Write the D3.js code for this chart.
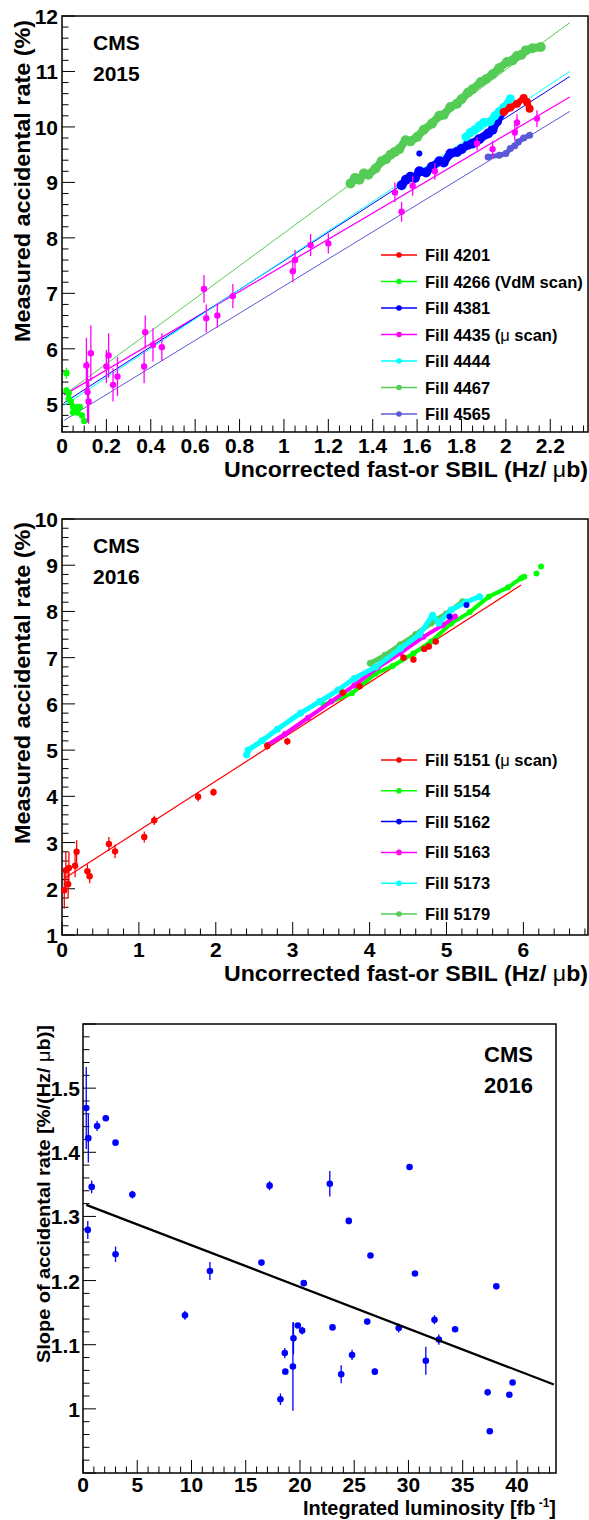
<!DOCTYPE html>
<html lang="en">
<head>
<meta charset="utf-8">
<style>
  body { margin: 0; background: #fff; }
  svg text { font-family: "Liberation Sans", Arial, sans-serif; font-weight: bold; fill: #000; }
</style>
</head>
<body>
<svg id="chart" width="589" height="1520"></svg>
<script src="https://cdnjs.cloudflare.com/ajax/libs/d3/7.8.5/d3.min.js"></script>
<script>
// ---- panel 1 (2015) data ----
const fills2015 = ["Fill 4201", "Fill 4266 (VdM scan)", "Fill 4381", "Fill 4435 (\u03bc scan)", "Fill 4444", "Fill 4467", "Fill 4565"];
const colors2015 = ["#ff0000", "#00ff00", "#0000ff", "#ff00ff", "#00ffff", "#55cc55", "#5a5ad8"];
// dense bands: [x, y]
const band4467 = [[1.30,8.98],[1.32,9.08],[1.34,9.05],[1.36,9.16],[1.38,9.14],[1.413,9.25],[1.44,9.38],[1.46,9.42],[1.48,9.5],[1.50,9.55],[1.52,9.6],[1.548,9.76],[1.57,9.74],[1.60,9.82],[1.63,9.95],[1.667,10.06],[1.70,10.2],[1.72,10.22],[1.75,10.36],[1.78,10.42],[1.80,10.5],[1.83,10.62],[1.85,10.68],[1.887,10.81],[1.91,10.86],[1.94,10.95],[1.97,11.06],[2.005,11.17],[2.03,11.2],[2.05,11.28],[2.07,11.3],[2.09,11.38],[2.12,11.42],[2.157,11.44]];
const band4381 = [[1.53,8.95],[1.55,9.05],[1.57,9.1],[1.59,9.08],[1.61,9.2],[1.64,9.18],[1.667,9.28],[1.70,9.38],[1.72,9.36],[1.75,9.52],[1.78,9.55],[1.80,9.6],[1.83,9.68],[1.85,9.7],[1.88,9.78],[1.92,9.88],[1.94,9.95],[1.96,10.1],[1.99,10.3]];
const band4444 = [[1.82,9.82],[1.84,9.9],[1.86,9.95],[1.88,10.02],[1.90,10.08],[1.93,10.1],[1.95,10.2],[1.97,10.28],[1.99,10.35],[2.02,10.51]];
const band4201 = [[1.99,10.27],[2.02,10.35],[2.05,10.42],[2.08,10.52],[2.095,10.45],[2.107,10.33]];
const band4565 = [[1.92,9.46],[1.97,9.49],[2.0,9.52],[2.02,9.61],[2.04,9.66],[2.056,9.73],[2.08,9.8],[2.107,9.85]];
const pts4266 = [[0.02,5.56,0.1],[0.02,5.25,0.06],[0.03,5.2,0.06],[0.03,5.1,0.05],[0.04,5.05,0.05],[0.05,4.95,0.05],[0.05,4.85,0.05],[0.06,4.9,0.05],[0.07,4.85,0.05],[0.07,4.95,0.05],[0.08,4.95,0.05],[0.09,4.8,0.05],[0.1,4.7,0.05]];
const pts4381 = [[1.61,9.52,0.05]];
const pts4435 = [[0.11,5.7,0.5],[0.115,5.22,0.55],[0.12,5.05,0.4],[0.13,5.92,0.5],[0.2,5.68,0.3],[0.21,5.88,0.4],[0.23,5.35,0.3],[0.25,5.5,0.35],[0.37,5.68,0.3],[0.375,6.3,0.3],[0.41,6.07,0.3],[0.45,6.03,0.25],[0.64,7.08,0.25],[0.65,6.55,0.25],[0.7,6.6,0.22],[0.77,6.95,0.22],[1.04,7.4,0.2],[1.05,7.6,0.18],[1.12,7.87,0.2],[1.2,7.9,0.18],[1.5,8.82,0.18],[1.53,8.47,0.18],[1.58,8.94,0.18],[1.68,9.2,0.15],[1.87,9.7,0.12],[1.94,9.6,0.15],[2.04,9.9,0.15],[2.05,10.08,0.15],[2.14,10.15,0.15]];
// fit lines: [x0, y0, x1, y1]
const fit4467 = [0.01, 5.17, 2.288, 11.88];
const fit4381 = [0.01, 5.03, 2.288, 10.91];
const fit4444 = [0.01, 4.98, 2.288, 11.0];
const fit4435 = [0.01, 5.17, 2.288, 10.54];
const fit4565 = [0.01, 4.71, 2.288, 10.28];

// ---- panel 2 (2016) data ----
const fills2016 = ["Fill 5151 (\u03bc scan)", "Fill 5154", "Fill 5162", "Fill 5163", "Fill 5173", "Fill 5179"];
const colors2016 = ["#ff0000", "#00ff00", "#0000ff", "#ff00ff", "#00ffff", "#55cc55"];
const pts5151 = [[0.03,1.97,0.4],[0.05,2.4,0.4],[0.08,2.1,0.3],[0.09,2.45,0.35],[0.17,2.5,0.25],[0.19,2.8,0.25],[0.33,2.38,0.15],[0.36,2.27,0.15],[0.61,2.97,0.15],[0.69,2.81,0.15],[1.07,3.12,0.12],[1.2,3.48,0.1],[1.77,3.99,0.1],[1.97,4.09,0.08],[2.67,5.09,0.08],[2.93,5.19,0.08],[3.65,6.24,0.07],[3.87,6.38,0.07],[4.44,7.0,0.07],[4.57,6.96,0.07],[4.71,7.19,0.06],[4.77,7.24,0.06],[4.86,7.35,0.06]];
const band5154 = [[3.4,5.98],[3.77,6.23],[4.08,6.66],[4.3,6.82],[4.57,7.09],[4.8,7.35],[5.06,7.74],[5.3,7.98],[5.55,8.32],[5.8,8.52],[5.97,8.72],[6.01,8.75]];
const pts5154 = [[6.17,8.82],[6.23,8.97]];
const band5179 = [[4.01,6.88],[4.2,7.05],[4.4,7.28],[4.6,7.5],[4.8,7.75],[5.0,7.95],[5.21,8.21]];
const band5163 = [[2.67,5.11],[2.9,5.35],[3.2,5.7],[3.5,6.05],[3.8,6.4],[4.1,6.78],[4.4,7.1],[4.7,7.45],[4.95,7.7],[5.11,7.89]];
const band5173 = [[2.40,4.9],[2.42,5.0],[2.6,5.2],[2.8,5.45],[3.1,5.8],[3.35,6.05],[3.59,6.3],[3.8,6.55],[4.08,6.8],[4.4,7.2],[4.65,7.5],[4.82,7.92],[4.9,7.75],[5.06,8.03],[5.25,8.2],[5.43,8.32]];
const pts5162 = [[5.04,7.89],[5.26,8.14]];
const fit5151 = [0.034, 2.23, 5.97, 8.57];

// ---- panel 3 (slope vs luminosity) ----
const lumi = [0.3,0.49,0.44,0.8,1.3,2.1,3.0,3.0,4.55,9.4,11.7,16.45,17.2,18.2,18.6,18.65,19.4,19.35,19.8,20.2,20.35,22.75,23.0,23.8,24.5,24.8,26.2,26.5,26.9,29.1,30.1,30.6,31.6,32.4,32.8,34.3,37.3,37.5,38.1,39.3,39.6];
const slope = [1.469,1.422,1.279,1.346,1.441,1.453,1.415,1.241,1.334,1.146,1.215,1.228,1.348,1.015,1.087,1.058,1.110,1.066,1.130,1.122,1.196,1.351,1.127,1.054,1.293,1.084,1.136,1.239,1.058,1.126,1.377,1.211,1.075,1.139,1.108,1.124,1.026,0.965,1.191,1.022,1.041];
const slopeErr = [0.064,0.038,0.014,0.01,0.008,0.004,0.002,0.012,0.006,0.007,0.014,0.003,0.007,0.009,0.008,0.002,0.025,0.069,0.002,0.006,0.002,0.02,0.002,0.014,0.005,0.008,0.003,0.002,0.005,0.007,0.004,0.002,0.022,0.007,0.008,0.004,0.005,0.003,0.002,0.002,0.002];
const fitSlope = [0.3, 1.318, 43.4, 1.038];

const svg = d3.select("#chart");

function panel(o) {
  const g = svg.append("g");
  const x = d3.scaleLinear().domain(o.xDom).range([o.left, o.right]);
  const y = d3.scaleLinear().domain(o.yDom).range([o.bottom, o.top]);
  // minor + major ticks drawn inward
  g.selectAll(".xt").data(d3.range(Math.round(o.xDom[0] / o.xMinor), Math.floor(o.xDom[1] / o.xMinor + 1e-6) + 1))
    .join("line").attr("stroke", "#000")
    .attr("x1", i => x(i * o.xMinor)).attr("x2", i => x(i * o.xMinor))
    .attr("y1", o.bottom).attr("y2", i => o.bottom - (i % o.xEvery === 0 ? 13 : 6.5));
  g.selectAll(".yt").data(d3.range(Math.ceil(o.yDom[0] / o.yMinor - 1e-6), Math.floor(o.yDom[1] / o.yMinor + 1e-6) + 1))
    .join("line").attr("stroke", "#000")
    .attr("y1", i => y(i * o.yMinor)).attr("y2", i => y(i * o.yMinor))
    .attr("x1", o.left).attr("x2", i => o.left + (Math.round(i * o.yMinor / o.yMajor * 1000) % 1000 === 0 ? 13 : 6.5));
  g.append("rect").attr("x", o.left).attr("y", o.top).attr("width", o.right - o.left).attr("height", o.bottom - o.top)
    .attr("fill", "none").attr("stroke", "#000").attr("stroke-width", 1.5);
  g.selectAll(".xl").data(o.xLabels).join("text")
    .attr("x", d => x(d)).attr("y", o.xLabelY).attr("text-anchor", "middle").attr("font-size", o.tickFont).text(d => d);
  g.selectAll(".yl").data(o.yLabels).join("text")
    .attr("x", o.yLabelX).attr("y", d => y(d) + 8).attr("text-anchor", "end").attr("font-size", o.tickFont).text(d => d);
  return { g, x, y };
}

function band(p, pts, color, w) {
  const line = d3.line().x(d => p.x(d[0])).y(d => p.y(d[1]));
  p.g.append("path").attr("d", line(pts)).attr("fill", "none").attr("stroke", color)
    .attr("stroke-width", w).attr("stroke-linecap", "round").attr("stroke-linejoin", "round");
  p.g.selectAll(null).data(pts).join("circle").attr("fill", color).attr("r", w / 2 + 1)
    .attr("cx", d => p.x(d[0])).attr("cy", d => p.y(d[1]));
}
function points(p, pts, color, r) {
  p.g.selectAll(null).data(pts).join("line").attr("stroke", color).attr("stroke-width", 1.3)
    .attr("x1", d => p.x(d[0])).attr("x2", d => p.x(d[0]))
    .attr("y1", d => p.y(d[1] - (d[2] || 0))).attr("y2", d => p.y(d[1] + (d[2] || 0)));
  p.g.selectAll(null).data(pts).join("circle").attr("fill", color).attr("r", r)
    .attr("cx", d => p.x(d[0])).attr("cy", d => p.y(d[1]));
}
function fit(p, f, color, w) {
  p.g.append("line").attr("stroke", color).attr("stroke-width", w)
    .attr("x1", p.x(f[0])).attr("y1", p.y(f[1])).attr("x2", p.x(f[2])).attr("y2", p.y(f[3]));
}
function legend(g, names, cols, x0, y0, dy) {
  names.forEach((n, i) => {
    const yy = y0 + i * dy;
    g.append("line").attr("x1", x0).attr("x2", x0 + 36).attr("y1", yy).attr("y2", yy).attr("stroke", cols[i]).attr("stroke-width", 1.5);
    g.append("circle").attr("cx", x0 + 18).attr("cy", yy).attr("r", 2.8).attr("fill", cols[i]);
    const t = g.append("text").attr("x", x0 + 44).attr("y", yy + 6).attr("font-size", 16.5);
    const parts = n.split("\u03bc");
    t.append("tspan").text(parts[0]);
    if (parts.length > 1) { t.append("tspan").attr("font-weight", "normal").text("\u03bc"); t.append("tspan").text(parts[1]); }
  });
}
function xTitle(g, x, y, size, len) {
  const t = g.append("text").attr("x", x).attr("y", y).attr("text-anchor", "end").attr("font-size", size)
    .attr("textLength", len).attr("lengthAdjust", "spacingAndGlyphs");
  t.append("tspan").text("Uncorrected fast-or SBIL (Hz/ ");
  t.append("tspan").attr("font-weight", "normal").text("\u03bc");
  t.append("tspan").text("b)");
}
function yTitle(g, cx, top, size, len, text) {
  g.append("text").attr("transform", `translate(${cx},${top}) rotate(-90)`).attr("text-anchor", "end")
    .attr("font-size", size).attr("textLength", len).attr("lengthAdjust", "spacingAndGlyphs").text(text);
}

// ===== Panel 1 =====
const p1 = panel({ xDom: [0, 2.37], yDom: [4.5, 12], left: 62, right: 588, top: 16, bottom: 432,
  xMinor: 0.05, xEvery: 4, yMinor: 0.2, yMajor: 1,
  xLabels: [0, 0.2, 0.4, 0.6, 0.8, 1, 1.2, 1.4, 1.6, 1.8, 2, 2.2], yLabels: [5, 6, 7, 8, 9, 10, 11, 12],
  xLabelY: 453, yLabelX: 58, tickFont: 21 });
fit(p1, fit4467, colors2015[5], 1);
fit(p1, fit4565, colors2015[6], 1);
fit(p1, fit4435, colors2015[3], 1.3);
fit(p1, fit4381, colors2015[2], 1);
fit(p1, fit4444, colors2015[4], 1);
band(p1, band4467, colors2015[5], 8);
band(p1, band4381, colors2015[2], 8);
points(p1, pts4381, colors2015[2], 3);
band(p1, band4444, colors2015[4], 7);
band(p1, band4201, colors2015[0], 6);
band(p1, band4565, colors2015[6], 5);
points(p1, pts4266, colors2015[1], 3.2);
points(p1, pts4435, colors2015[3], 3.2);
legend(p1.g, fills2015, colors2015, 381, 255, 26.5);
p1.g.append("text").attr("x", 93).attr("y", 50).attr("font-size", 21).text("CMS");
p1.g.append("text").attr("x", 93).attr("y", 81).attr("font-size", 21).text("2015");
xTitle(p1.g, 588, 477, 22, 364);
yTitle(p1.g, 30, 20, 22, 322, "Measured accidental rate (%)");

// ===== Panel 2 =====
const p2 = panel({ xDom: [0, 6.84], yDom: [1, 10], left: 62, right: 588, top: 519, bottom: 935,
  xMinor: 0.2, xEvery: 5, yMinor: 0.2, yMajor: 1,
  xLabels: [0, 1, 2, 3, 4, 5, 6], yLabels: [1, 2, 3, 4, 5, 6, 7, 8, 9, 10],
  xLabelY: 957, yLabelX: 58, tickFont: 21 });
fit(p2, fit5151, colors2016[0], 1.2);
band(p2, band5154, colors2016[1], 4);
points(p2, pts5154, colors2016[1], 3);
band(p2, band5163, colors2016[3], 4);
band(p2, band5179, colors2016[5], 5);
band(p2, band5173, colors2016[4], 5);
points(p2, pts5162, colors2016[2], 3);
points(p2, pts5151, colors2016[0], 3.2);
legend(p2.g, fills2016, colors2016, 381, 760, 30.8);
p2.g.append("text").attr("x", 93).attr("y", 553).attr("font-size", 21).text("CMS");
p2.g.append("text").attr("x", 93).attr("y", 584).attr("font-size", 21).text("2016");
xTitle(p2.g, 588, 981, 22, 364);
yTitle(p2.g, 30, 522, 22, 322, "Measured accidental rate (%)");

// ===== Panel 3 =====
const p3 = panel({ xDom: [0, 43.6], yDom: [0.9, 1.6], left: 83, right: 556, top: 1024, bottom: 1473,
  xMinor: 1, xEvery: 5, yMinor: 0.02, yMajor: 0.1,
  xLabels: [0, 5, 10, 15, 20, 25, 30, 35, 40], yLabels: [1, 1.1, 1.2, 1.3, 1.4, 1.5],
  xLabelY: 1492, yLabelX: 80, tickFont: 21 });
const pts3 = lumi.map((l, i) => [l, slope[i], slopeErr[i]]);
points(p3, pts3, "#0000ff", 3.3);
fit(p3, fitSlope, "#000", 2.3);
p3.g.append("text").attr("x", 533).attr("y", 1062).attr("text-anchor", "end").attr("font-size", 22).text("CMS");
p3.g.append("text").attr("x", 533).attr("y", 1093).attr("text-anchor", "end").attr("font-size", 22).text("2016");
const xt3 = p3.g.append("text").attr("x", 556).attr("y", 1515).attr("text-anchor", "end").attr("font-size", 20)
  .attr("textLength", 253).attr("lengthAdjust", "spacingAndGlyphs");
xt3.append("tspan").text("Integrated luminosity [fb");
xt3.append("tspan").attr("dy", -8).attr("font-size", 12).text(" -1");
xt3.append("tspan").attr("dy", 8).text("]");
const yt3 = p3.g.append("text").attr("transform", "translate(50,1025) rotate(-90)").attr("text-anchor", "end").attr("font-size", 19)
  .attr("textLength", 338).attr("lengthAdjust", "spacingAndGlyphs");
yt3.append("tspan").text("Slope of accidental rate [%/(Hz/ ");
yt3.append("tspan").attr("font-weight", "normal").text("\u03bc");
yt3.append("tspan").text("b)]");
</script>
</body>
</html>
